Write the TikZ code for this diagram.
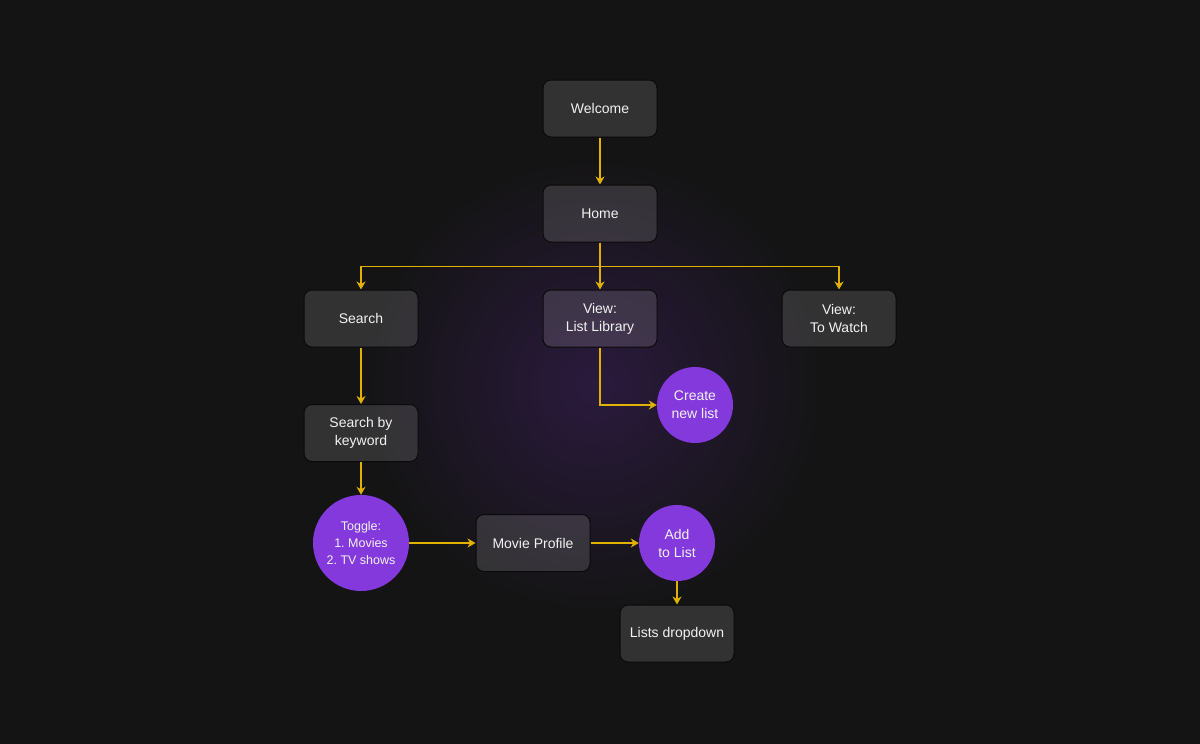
\documentclass[tikz,border=0pt]{standalone}
\usepackage{fontspec}
\setmainfont{Liberation Sans}
\usetikzlibrary{arrows.meta}
\definecolor{bg}{HTML}{141414}
\definecolor{glow}{HTML}{2A1A3D}
\definecolor{gold}{HTML}{E2B200}
\definecolor{purp}{HTML}{8339DC}
\definecolor{txt}{HTML}{F2F2F2}
\definecolor{edge}{HTML}{0A0A0A}
\tikzset{
  box/.style={draw=edge, line width=1pt, rounded corners=8pt, fill=white, fill opacity=0.13, text opacity=1,
    minimum width=114pt, minimum height=57pt, align=center, text=txt, inner sep=2pt,
    font=\fontsize{14}{18}\selectfont},
  blob/.style={circle, fill=purp, inner sep=0pt, minimum size=76pt, align=center, text=txt,
    font=\fontsize{14}{18}\selectfont},
  conn/.style={draw=gold, line width=1.1pt, -{Stealth[length=8pt,width=9pt,inset=2.5pt]}}
}
\begin{document}
\frenchspacing
\begin{tikzpicture}[x=1pt,y=-1pt]
\fill[bg] (0,0) rectangle (1200,744);
\begin{scope}
\clip (0,0) rectangle (1200,744);
\shade[inner color=glow, outer color=bg] (595,385) circle (230);
\end{scope}
\useasboundingbox (0,0) rectangle (1200,744);

\node[box] (welcome) at (600,108.5) {Welcome};
\node[box] (home) at (600,213.5) {Home};
\node[box] (search) at (361,318.5) {Search};
\node[box] (listlib) at (600,318.5) {View:\\List Library};
\node[box] (towatch) at (839,318.5) {View:\\To Watch};
\node[box] (kw) at (361,433) {Search by\\keyword};
\node[blob, minimum size=96pt, font=\fontsize{12.5}{17}\selectfont] (toggle) at (361,543) {Toggle:\\1. Movies\\2. TV shows};
\node[box] (movie) at (533,543) {Movie Profile};
\node[blob] (add) at (677,543) {Add\\to List};
\node[box] (dropdown) at (677,633.5) {Lists dropdown};
\node[blob] (create) at (695,405) {Create\\new list};

\draw[conn] (welcome) -- (home);
\draw[conn] (home.south) -- ++(0,24) -| (search.north);
\draw[conn] (home.south) -- ++(0,24) -| (towatch.north);
\draw[conn] (home) -- (listlib);
\draw[conn] (listlib.south) |- (create.west);
\draw[conn] (search) -- (kw);
\draw[conn] (kw) -- (toggle);
\draw[conn] (toggle) -- (movie);
\draw[conn] (movie) -- (add);
\draw[conn] (add) -- (dropdown);
\end{tikzpicture}
\end{document}
